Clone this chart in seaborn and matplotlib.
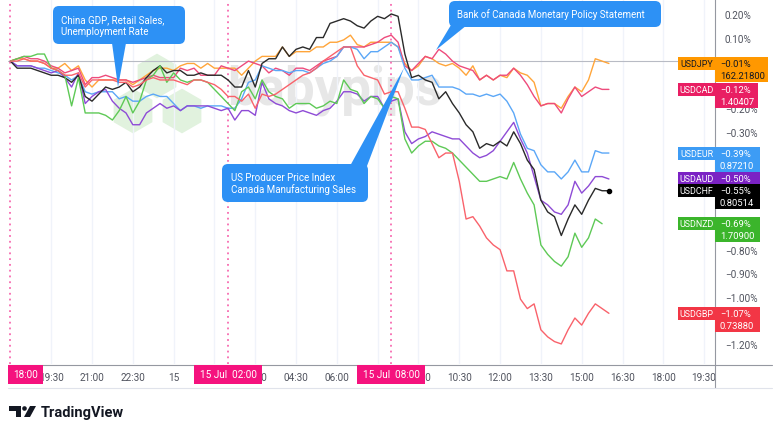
import numpy as np
import pandas as pd
import matplotlib
matplotlib.use("Agg")
import matplotlib.pyplot as plt
import matplotlib.patches as mpatches
import matplotlib.transforms as mtransforms
import seaborn as sns

# 15-minute bars, hours after 18:00 (14 Jul) up to 16:00 (15 Jul)
bar_hours = np.arange(89) * 0.25

# % change since 18:00
usdjpy = [0.00, 0.01, 0.01, 0.00, 0.00, -0.01, -0.03, -0.03, -0.01, -0.04,
          -0.02, -0.08, -0.11, -0.08, -0.08, -0.08, -0.08, -0.08, -0.10, -0.08,
          -0.06, -0.04, -0.03, -0.03, -0.04, -0.02, -0.01, -0.01, -0.03, -0.01,
          -0.03, -0.03, -0.03, -0.03, -0.06, -0.03, 0.00, 0.02, 0.02, 0.02,
          0.06, 0.02, 0.04, 0.04, 0.04, 0.06, 0.06, 0.08, 0.08, 0.09,
          0.11, 0.07, 0.06, 0.08, 0.08, 0.08, 0.08, 0.06, -0.01, -0.04,
          -0.02, 0.02, 0.01, -0.01, -0.02, -0.01, -0.03, -0.06, -0.02, -0.08,
          -0.06, -0.08, -0.06, -0.07, -0.03, -0.05, -0.06, -0.09, -0.19, -0.18,
          -0.18, -0.20, -0.15, -0.11, -0.13, -0.08, 0.01, 0.00, -0.01]
usdcad = [0.00, 0.01, 0.02, 0.01, 0.01, 0.00, -0.02, -0.03, -0.05, -0.04,
          -0.03, -0.10, -0.07, -0.07, -0.06, -0.07, -0.08, -0.08, -0.09, -0.08,
          -0.07, -0.06, -0.07, -0.07, -0.07, -0.03, -0.04, -0.03, -0.06, -0.06,
          -0.06, -0.02, -0.03, -0.04, -0.02, 0.00, -0.01, -0.02, -0.05, -0.03,
          -0.04, -0.06, -0.03, -0.03, -0.04, -0.02, 0.00, 0.01, 0.02, 0.06,
          0.06, 0.06, 0.06, 0.07, 0.08, 0.10, 0.11, 0.08, -0.02, -0.04,
          -0.01, 0.02, 0.01, 0.05, 0.03, 0.00, -0.02, -0.03, -0.04, -0.08,
          -0.06, -0.08, -0.06, -0.06, -0.03, -0.06, -0.10, -0.15, -0.19, -0.18,
          -0.18, -0.22, -0.16, -0.11, -0.15, -0.13, -0.11, -0.12, -0.12]
usdeur = [0.00, -0.02, -0.02, -0.02, -0.03, -0.03, -0.04, -0.05, -0.06, -0.08,
          -0.06, -0.13, -0.14, -0.13, -0.13, -0.13, -0.16, -0.15, -0.17, -0.17,
          -0.15, -0.14, -0.15, -0.15, -0.18, -0.21, -0.19, -0.19, -0.20, -0.19,
          -0.19, -0.19, -0.20, -0.20, -0.16, -0.09, -0.08, -0.02, -0.03, -0.04,
          -0.04, -0.05, -0.04, -0.04, -0.05, -0.03, -0.01, 0.00, 0.02, 0.06,
          0.06, 0.05, 0.01, 0.04, 0.04, 0.06, 0.08, 0.06, -0.03, -0.08,
          -0.08, -0.07, -0.06, -0.11, -0.11, -0.11, -0.12, -0.14, -0.14, -0.15,
          -0.14, -0.15, -0.14, -0.17, -0.22, -0.31, -0.37, -0.38, -0.44, -0.47,
          -0.47, -0.50, -0.47, -0.42, -0.47, -0.47, -0.38, -0.39, -0.39]
usdaud = [0.00, -0.02, -0.02, -0.02, -0.03, -0.04, -0.05, -0.04, -0.07, -0.11,
          -0.05, -0.18, -0.15, -0.13, -0.12, -0.17, -0.20, -0.22, -0.27, -0.27,
          -0.22, -0.20, -0.18, -0.20, -0.19, -0.21, -0.19, -0.19, -0.19, -0.19,
          -0.20, -0.21, -0.20, -0.25, -0.21, -0.21, -0.23, -0.09, -0.16, -0.18,
          -0.19, -0.21, -0.22, -0.21, -0.22, -0.23, -0.21, -0.20, -0.17, -0.13,
          -0.13, -0.14, -0.17, -0.15, -0.15, -0.20, -0.17, -0.16, -0.30, -0.35,
          -0.33, -0.32, -0.30, -0.31, -0.32, -0.33, -0.33, -0.36, -0.39, -0.41,
          -0.40, -0.38, -0.34, -0.30, -0.26, -0.33, -0.39, -0.49, -0.59, -0.61,
          -0.64, -0.65, -0.61, -0.51, -0.56, -0.53, -0.49, -0.49, -0.50]
usdchf = [0.00, -0.03, -0.03, -0.03, -0.04, -0.05, -0.06, -0.06, -0.07, -0.09,
          -0.06, -0.15, -0.17, -0.14, -0.11, -0.12, -0.11, -0.09, -0.13, -0.11,
          -0.07, -0.04, -0.02, -0.05, -0.04, -0.04, -0.06, -0.06, -0.05, -0.06,
          -0.06, -0.06, -0.08, -0.11, -0.11, -0.04, -0.11, -0.01, 0.01, 0.01,
          0.06, 0.02, 0.05, 0.06, 0.05, 0.10, 0.10, 0.16, 0.17, 0.18,
          0.17, 0.15, 0.14, 0.17, 0.19, 0.18, 0.20, 0.19, 0.03, -0.07,
          -0.06, -0.08, -0.09, -0.16, -0.13, -0.18, -0.22, -0.27, -0.30, -0.37,
          -0.35, -0.36, -0.34, -0.36, -0.30, -0.35, -0.42, -0.46, -0.59, -0.64,
          -0.66, -0.74, -0.67, -0.61, -0.65, -0.59, -0.54, -0.55, -0.55]
usdnzd = [0.00, 0.01, 0.02, 0.02, 0.03, 0.03, -0.03, -0.04, -0.06, -0.19,
          -0.07, -0.22, -0.22, -0.22, -0.23, -0.25, -0.21, -0.15, -0.22, -0.17,
          -0.08, -0.06, -0.02, -0.09, -0.05, -0.08, -0.09, -0.08, -0.08, -0.09,
          -0.12, -0.15, -0.18, -0.21, -0.13, -0.11, -0.16, -0.08, -0.13, -0.15,
          -0.16, -0.20, -0.18, -0.18, -0.18, -0.20, -0.19, -0.17, -0.18, -0.08,
          -0.12, -0.13, -0.18, -0.15, -0.16, -0.20, -0.15, -0.16, -0.33, -0.39,
          -0.36, -0.34, -0.34, -0.36, -0.37, -0.39, -0.42, -0.45, -0.48, -0.51,
          -0.51, -0.50, -0.49, -0.50, -0.43, -0.50, -0.56, -0.61, -0.78, -0.82,
          -0.85, -0.87, -0.83, -0.73, -0.79, -0.75, -0.67, -0.69, np.nan]
usdgbp = [0.00, 0.00, 0.01, 0.00, 0.00, -0.01, -0.03, -0.04, -0.06, -0.06,
          -0.05, -0.11, -0.08, -0.08, -0.08, -0.08, -0.09, -0.09, -0.11, -0.10,
          -0.08, -0.07, -0.08, -0.08, -0.08, -0.09, -0.10, -0.08, -0.08, -0.09,
          -0.10, -0.12, -0.15, -0.15, -0.17, -0.14, -0.20, -0.14, -0.15, -0.14,
          -0.12, -0.10, -0.08, -0.06, -0.05, -0.03, 0.00, 0.02, 0.04, 0.06,
          0.06, -0.02, -0.06, -0.07, -0.08, -0.14, -0.13, -0.13, -0.20, -0.28,
          -0.28, -0.29, -0.35, -0.41, -0.39, -0.39, -0.51, -0.67, -0.66, -0.70,
          -0.75, -0.78, -0.80, -0.89, -0.89, -1.01, -1.05, -1.03, -1.14, -1.17,
          -1.19, -1.20, -1.14, -1.09, -1.12, -1.07, -1.03, -1.05, -1.07]

pairs = ["USDJPY", "USDCAD", "USDEUR", "USDAUD", "USDCHF", "USDNZD", "USDGBP"]
series = [usdjpy, usdcad, usdeur, usdaud, usdchf, usdnzd, usdgbp]
last_prices = ["162.21800", "1.40407", "0.87210", "", "0.80514", "1.70900", "0.73880"]

# time axis (labels under the pink event markers are left blank)
time_ticks = [1.5, 3, 4.5, 6, 7.5, 9, 10.5, 12, 13.5, 15, 16.5, 18, 19.5, 21, 22.5, 24, 25.5]
time_labels = ["19:30", "21:00", "22:30", "15", "", "03:00", "04:30", "06:00", "",
               "09:00", "10:30", "12:00", "13:30", "15:00", "16:30", "18:00", "19:30"]
# price scale (labels hidden behind the value tags are left blank)
pct_ticks = [0.2, 0.1, 0.0, -0.1, -0.2, -0.3, -0.4, -0.5, -0.6, -0.7, -0.8, -0.9, -1.0, -1.1, -1.2]
pct_labels = ["0.20%", "0.10%", "", "", "\u22120.20%", "\u22120.30%", "", "", "", "",
              "\u22120.80%", "\u22120.90%", "\u22121.00%", "", "\u22121.20%"]

event_hours = [0, 8, 14]
event_labels = ["18:00", "15 Jul  02:00", "15 Jul  08:00"]

callouts = [
    "China GDP, Retail Sales,\nUnemployment Rate",
    "Bank of Canada Monetary Policy Statement",
    "US Producer Price Index\nCanada Manufacturing Sales",
]

# styling
line_colors = ["#ffa53a", "#ee4b7c", "#5ba7f7", "#8e4bd6", "#2a2a2a", "#5ec956", "#f9626b"]
box_colors = ["#ff9800", "#e91e63", "#3d9cf5", "#7b22c4", "#000000", "#3bb52b", "#f23645"]
box_text = ["#131722", "white", "white", "white", "white", "white", "white"]
price_box_w = [53, 43, 45, 45, 45, 45, 45]
pink = "#f5127e"
bubble = "#2d91f5"

W, H = 780, 439
sns.set_style("white")
plt.rcParams["font.family"] = ["Roboto", "DejaVu Sans"]

df = pd.concat([pd.DataFrame({"hours": bar_hours, "pct": vals, "pair": name})
                for name, vals in zip(pairs, series)], ignore_index=True)

fig = plt.figure(figsize=(W / 100, H / 100), dpi=100)
ax = fig.add_axes([8 / W, 1 - 365 / H, (715 - 8) / W, 365 / H])
# image pixel coordinates (y down) -> display
pix = mtransforms.Affine2D().scale(1, -1).translate(0, H)

# watermark
for cx, cy in [(157, 77), (133, 112), (182, 112)]:
    ax.add_patch(mpatches.RegularPolygon((cx, cy), 6, radius=24, transform=pix,
                                         facecolor="#e1f2de", edgecolor="white", lw=2, zorder=0))
ax.text(335, 105, "babypips", transform=pix, fontsize=38, fontweight="bold",
        color="#e7e7e7", ha="center", va="baseline", zorder=0)

sns.lineplot(data=df, x="hours", y="pct", hue="pair", palette=dict(zip(pairs, line_colors)),
             linewidth=1.0, legend=False, ax=ax, zorder=3)
ax.plot(bar_hours[-1], usdchf[-1], "o", color="black", ms=3, zorder=4)

ax.set_xlim(-0.088, 25.9)
ax.set_ylim(-1.2851, 0.2635)
ax.axhline(0, color="#b8bbc4", lw=0.8, zorder=1)
for h in time_ticks:
    ax.axvline(h, color="#f0f3fa", lw=1, zorder=0.5)
for h in event_hours:
    ax.axvline(h, color="#f76bb0", lw=1.3, ls=(0, (1, 2.2)), zorder=2)

ax.set_xticks(time_ticks)
ax.set_xticklabels(time_labels)
ax.yaxis.tick_right()
ax.set_yticks(pct_ticks)
ax.set_yticklabels(pct_labels)
ax.tick_params(axis="x", length=0, pad=6, labelsize=7.2, labelcolor="#50535e")
ax.tick_params(axis="y", length=0, pad=7, labelsize=7.2, labelcolor="#50535e")
for lbl in ax.get_yticklabels():
    lbl.set_horizontalalignment("left")
ax.set_xlabel("")
ax.set_ylabel("")
for s in ax.spines.values():
    s.set_visible(False)

def add_line(xs, ys, color, lw=0.8):
    fig.add_artist(plt.Line2D(xs, ys, transform=pix, color=color, lw=lw, zorder=2))

add_line([715, 715], [0, 389], "#9598a1")
add_line([8, 772], [365.5, 365.5], "#9598a1")
add_line([8, 772], [389, 389], "#e0e3eb")

def rect(x0, y0, w, h, color, z=3):
    fig.add_artist(mpatches.Rectangle((x0, y0), w, h, transform=pix, facecolor=color,
                                      edgecolor="none", zorder=z))

def img_x(hour):
    return ax.transData.transform((hour, 0))[0]

def img_y(val):
    return H - ax.transData.transform((0, val))[1]

# highlighted event times on the time axis
for h, lab in zip(event_hours, event_labels):
    w = 35 if h == 0 else 68
    x0 = max(8, img_x(h) - w / 2)
    rect(x0, 365.5, w, 19, pink)
    fig.text(x0 + w / 2, 375.5, lab, transform=pix, color="white", fontsize=7.2,
             ha="center", va="center", zorder=4)

# last-value tags on the price scale
for i, name in enumerate(pairs):
    vals = [v for v in series[i] if not np.isnan(v)]
    yv = img_y(vals[-1])
    top = yv - 6.5
    rows = 2 if last_prices[i] else 1
    rect(678, top, 37, 13, box_colors[i])
    rect(715, top, price_box_w[i], 12 * rows + 1, box_colors[i])
    fig.text(696.5, yv, name, transform=pix, color=box_text[i], fontsize=6.4,
             ha="center", va="center", zorder=4)
    fig.text(720, yv, f"{vals[-1]:.2f}%".replace("-", "\u2212"), transform=pix,
             color=box_text[i], fontsize=6.8, ha="left", va="center", zorder=4)
    if last_prices[i]:
        fig.text(720, yv + 12, last_prices[i], transform=pix, color=box_text[i],
                 fontsize=6.8, ha="left", va="center", zorder=4)

# news callouts
def callout(x0, y0, x1, y1, pointer, text, tx, ty):
    fig.add_artist(mpatches.Polygon(pointer, closed=True, transform=pix, facecolor=bubble,
                                    edgecolor="none", zorder=5))
    fig.add_artist(mpatches.FancyBboxPatch((x0, y0), x1 - x0, y1 - y0,
                                           boxstyle="round,pad=0,rounding_size=6",
                                           transform=pix, facecolor=bubble,
                                           edgecolor="none", zorder=5))
    fig.text(tx, ty, text, transform=pix, color="white", fontsize=7.0, ha="left",
             va="center", linespacing=1.15, zorder=6)

callout(53, 7, 185, 45, [(112, 44), (126, 44), (118, 88)], callouts[0], 61, 26)
callout(449, 2, 661, 28, [(451, 26), (467, 26), (436, 51)], callouts[1], 457, 14.5)
callout(222, 165, 368, 203, [(350, 167), (367, 167), (404, 69)], callouts[2], 231, 184)

# TradingView logo
fig.add_artist(mpatches.Polygon([(9, 407), (21, 407), (21, 418), (16, 418), (16, 411.5), (9, 411.5)],
                                transform=pix, facecolor="#131722", edgecolor="none"))
fig.add_artist(mpatches.Circle((24.5, 409.5), 2.3, transform=pix, facecolor="#131722",
                               edgecolor="none"))
fig.add_artist(mpatches.Polygon([(30, 407), (36, 407), (30, 418), (24, 418)],
                                transform=pix, facecolor="#131722", edgecolor="none"))
fig.text(41, 413, "TradingView", transform=pix, fontsize=10.5, fontweight="bold",
         color="#131722", ha="left", va="center")

fig.savefig("out.png", dpi=100)
